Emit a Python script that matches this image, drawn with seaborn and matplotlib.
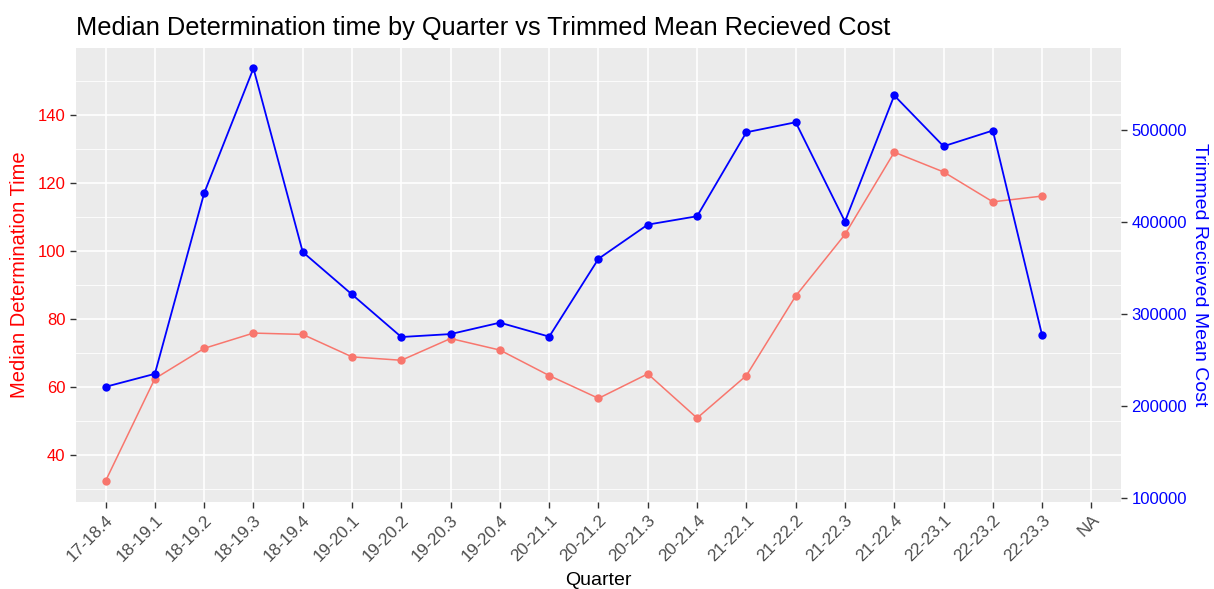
import numpy as np
import pandas as pd
import seaborn as sns
import matplotlib.pyplot as plt
from matplotlib.ticker import MultipleLocator

quarters = ["17-18.4", "18-19.1", "18-19.2", "18-19.3", "18-19.4", "19-20.1", "19-20.2",
            "19-20.3", "19-20.4", "20-21.1", "20-21.2", "20-21.3", "20-21.4", "21-22.1",
            "21-22.2", "21-22.3", "21-22.4", "22-23.1", "22-23.2", "22-23.3", "NA"]
median_time = [32.4, 62.5, 71.4, 75.9, 75.5, 68.9, 67.9, 74.3, 70.9, 63.4, 56.7,
               63.9, 50.9, 63.4, 86.8, 104.9, 129.1, 123.3, 114.5, 116.2, np.nan]
mean_cost = [221300, 235400, 431700, 567300, 367700, 321600, 275400, 278600, 291000,
             275800, 360400, 397500, 406600, 497800, 508700, 400800, 537800, 482600,
             499700, 277200, np.nan]

df = pd.DataFrame({"Quarter": quarters, "time": median_time, "cost": mean_cost})
df["pos"] = np.arange(len(quarters))
d = df.dropna()

plt.rcParams['font.family'] = ['Liberation Sans', 'DejaVu Sans']
fig, ax = plt.subplots(figsize=(12.14, 5.89), dpi=100)
fig.subplots_adjust(left=76/1214, right=1121/1214, top=1-47.5/589, bottom=1-501.7/589)

ax.set_facecolor("#EBEBEB")
for s in ax.spines.values():
    s.set_visible(False)

red = "#F8766D"
sns.lineplot(data=d, x="pos", y="time", ax=ax, color=red, linewidth=1.1,
             marker="o", markersize=6, markeredgewidth=0)

ax2 = ax.twinx()
for s in ax2.spines.values():
    s.set_visible(False)
sns.lineplot(data=d, x="pos", y="cost", ax=ax2, color="blue", linewidth=1.3,
             marker="o", markersize=6, markeredgewidth=0)

ax.set_xlim(-0.6, len(quarters) - 0.4)
ax.set_ylim(26.3, 159.9)
ax2.set_ylim(96500, 589900)

ax.set_xticks(range(len(quarters)))
ax.set_xticklabels(quarters, rotation=45, ha="right", rotation_mode="anchor")
ax.yaxis.set_major_locator(MultipleLocator(20))
ax.set_yticks(np.arange(30, 160, 20), minor=True)
ax2.set_yticks(np.arange(100000, 600000, 100000))
ax2.set_yticklabels([str(v) for v in range(100000, 600000, 100000)])

ax.grid(True, which="major", color="white", linewidth=1.2)
ax.grid(True, which="minor", axis="y", color="white", linewidth=0.6)
ax.set_axisbelow(True)
ax2.grid(False)

ax.tick_params(axis="x", colors="#333333", labelcolor="#4D4D4D", labelsize=12.3, length=4, width=1)
ax.tick_params(axis="y", which="major", colors="#333333", labelcolor="red", labelsize=12, length=4, width=1)
ax.tick_params(axis="y", which="minor", length=0)
ax2.tick_params(axis="y", colors="#333333", labelcolor="blue", labelsize=12, length=4, width=1)

ax.set_xlabel("Quarter", fontsize=14, color="black", labelpad=6)
ax.set_ylabel("Median Determination Time", fontsize=14.5, color="red", labelpad=6)
ax2.set_ylabel("Trimmed Recieved Mean Cost", fontsize=14, color="blue", rotation=-90, labelpad=15)
ax.set_title("Median Determination time by Quarter vs Trimmed Mean Recieved Cost",
             fontsize=18.3, loc="left", pad=9)

fig.savefig("out.png", dpi=100)
